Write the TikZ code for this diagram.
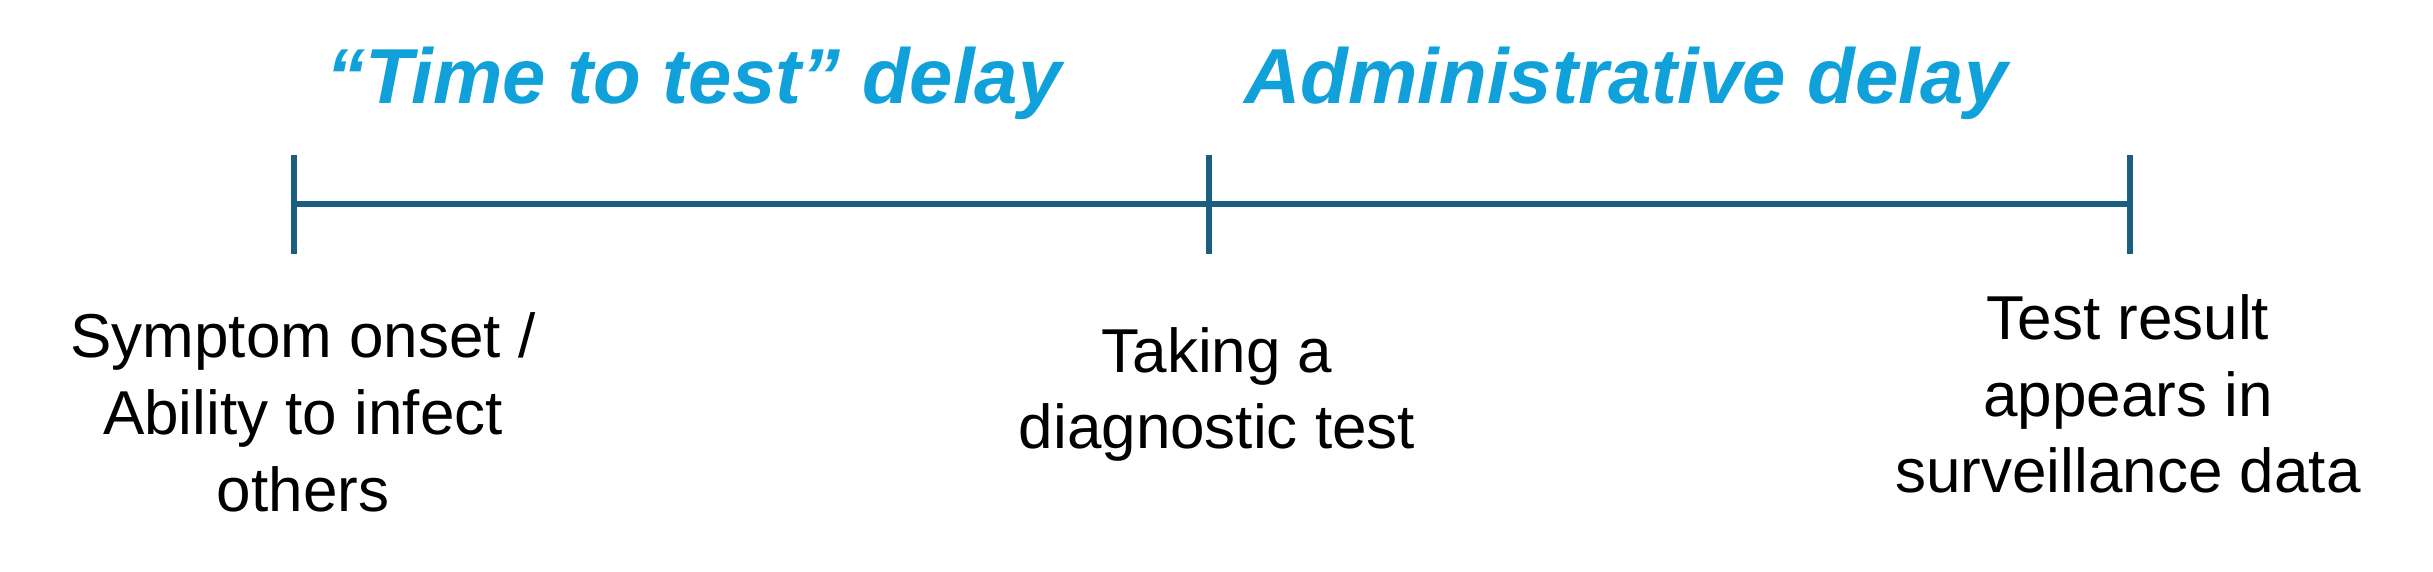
\documentclass[tikz,border=0pt]{standalone}
\usepackage{fontspec}
\setmainfont{Liberation Sans}
\definecolor{linecol}{RGB}{28,94,128}
\definecolor{titlecol}{RGB}{16,160,218}
\tikzset{
  axis/.style={draw=linecol, line width=3.2pt},
  title/.style={font=\fontsize{39}{46}\selectfont\bfseries\itshape, text=titlecol, inner sep=0pt, anchor=base},
  lbl/.style={font=\fontsize{31}{38.5}\selectfont, align=center, inner sep=0pt, anchor=base},
}
\begin{document}
\begin{tikzpicture}[x=0.5pt,y=-0.5pt]
\useasboundingbox (0,0) rectangle (2433,572);
\coordinate (a) at (294,204);
\coordinate (b) at (1209,204);
\coordinate (c) at (2130,204);
\draw[axis] (a) -- (b) -- (c);
\foreach \p in {a,b,c}{
  \draw[axis] ([yshift=24.5pt]\p) -- ([yshift=-25pt]\p);
}
\node[title] (t1) at (694,104) {“Time to test” delay};
\node[title] (t2) at (1626,104) {Administrative delay};
\node[lbl] (l1) at (303,511) {Symptom onset /\\Ability to infect\\others};
\node[lbl] (l2) at (1217,449) {Taking a\\diagnostic test};
\node[lbl] (l3) at (2128,493) {Test result\\appears in\\surveillance data};
\end{tikzpicture}
\end{document}
